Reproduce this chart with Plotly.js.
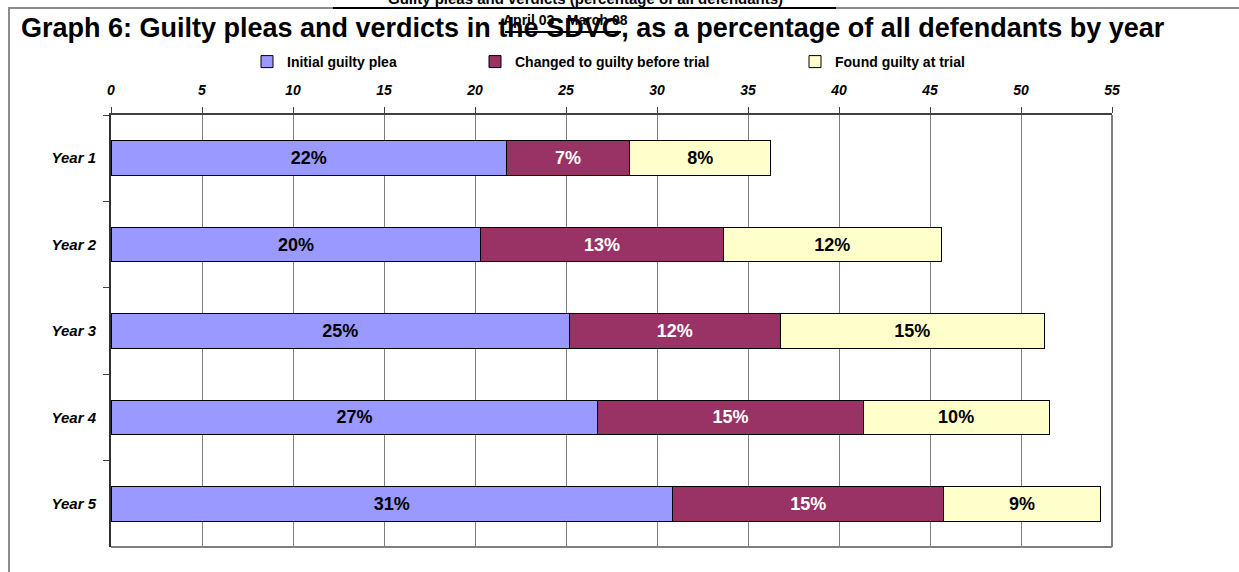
<!DOCTYPE html>
<html>
<head>
<meta charset="utf-8">
<script src="https://cdn.plot.ly/plotly-3.0.1.min.js"></script>
<style>
  html, body { margin: 0; padding: 0; background: #ffffff; }
  #chart { width: 1239px; height: 572px; }
</style>
</head>
<body>
<div id="chart"></div>
<script>
// ---- Data ----
const years = ["Year 1", "Year 2", "Year 3", "Year 4", "Year 5"];
const initialGuiltyPlea = [21.73, 20.32, 25.19, 26.75, 30.85];
const changedBeforeTrial = [6.77, 13.32, 11.57, 14.58, 14.91];
const foundGuiltyAtTrial = [7.76, 11.99, 14.52, 10.21, 8.59];
const seriesNames = ["Initial guilty plea", "Changed to guilty before trial", "Found guilty at trial"];
const xTickValues = [0, 5, 10, 15, 20, 25, 30, 35, 40, 45, 50, 55];

// ---- Layout helpers (pixel -> paper) ----
const W = 1239, H = 572;
const M = { l: 111, r: 127, t: 115, b: 25 };
const PW = W - M.l - M.r, PH = H - M.t - M.b;
const px = v => (v - M.l) / PW;
const py = v => 1 - (v - M.t) / PH;

const FONT = "Liberation Sans, Arial, sans-serif";

function barTrace(vals, name, fill, txtColor, lw) {
  return {
    type: "bar",
    orientation: "h",
    y: years,
    x: vals,
    name: name,
    width: 0.4,
    marker: { color: fill, line: { color: "#000000", width: 1 } },
    texttemplate: "%{x:.0f}%",
    textposition: "inside",
    insidetextanchor: "middle",
    constraintext: "none",
    textfont: { family: FONT, size: 18, color: txtColor, weight: "bold" },
    hoverinfo: "none",
    legendwidth: lw
  };
}

const data = [
  barTrace(initialGuiltyPlea, seriesNames[0], "#9999FF", "#000000", 183),
  barTrace(changedBeforeTrial, seriesNames[1], "#993366", "#FFFFFF", 275),
  barTrace(foundGuiltyAtTrial, seriesNames[2], "#FFFFCC", "#000000", 160)
];

const layout = {
  width: W, height: H,
  margin: M,
  paper_bgcolor: "#ffffff",
  plot_bgcolor: "#ffffff",
  barmode: "stack",
  bargap: 0.6,
  font: { family: FONT, color: "#000000" },
  showlegend: true,
  legend: {
    orientation: "h",
    x: px(247), xanchor: "left",
    y: py(62), yanchor: "middle",
    font: { family: FONT, size: 14, weight: "bold" },
    traceorder: "normal",
    itemclick: false, itemdoubleclick: false,
    bgcolor: "rgba(0,0,0,0)"
  },
  xaxis: {
    side: "top",
    range: [0, 55],
    tickvals: xTickValues,
    ticktext: xTickValues.map(String),
    ticks: "outside", ticklen: 6, tickcolor: "#404040", tickwidth: 1,
    showline: true, linecolor: "#404040", linewidth: 2,
    showgrid: true, gridcolor: "#7f7f7f", gridwidth: 1,
    zeroline: false,
    tickfont: { family: FONT, size: 14, weight: "bold", style: "italic" },
    ticklabelstandoff: 6,
    fixedrange: true
  },
  yaxis: {
    type: "category",
    categoryorder: "array", categoryarray: years,
    autorange: "reversed",
    tickson: "boundaries",
    ticks: "outside", ticklen: 6, tickcolor: "#404040", tickwidth: 1,
    showline: true, linecolor: "#303030", linewidth: 2,
    showgrid: false,
    zeroline: false,
    tickfont: { family: FONT, size: 15, weight: "bold", style: "italic" },
    ticklabelstandoff: 10,
    fixedrange: true
  },
  shapes: [
    // right and bottom border of the plot area
    { type: "line", xref: "paper", yref: "paper", x0: 1, x1: 1, y0: 0, y1: 1,
      line: { color: "#808080", width: 2 }, layer: "below" },
    { type: "line", xref: "paper", yref: "paper", x0: 0, x1: 1, y0: 0, y1: 0,
      line: { color: "#808080", width: 2 }, layer: "below" },
    // outer chart frame (left and top)
    { type: "path", xref: "paper", yref: "paper",
      path: `M ${px(9)} ${py(580)} L ${px(9)} ${py(8)} L ${px(1245)} ${py(8)}`,
      line: { color: "#8c8c8c", width: 2 } },
    // underline of top title
    { type: "line", xref: "paper", yref: "paper", x0: px(333), x1: px(836), y0: py(8), y1: py(8),
      line: { color: "#000000", width: 2 } },
    // underline of date subtitle
    { type: "line", xref: "paper", yref: "paper", x0: px(505), x1: px(621), y0: py(32), y1: py(32),
      line: { color: "#000000", width: 2 } }
  ],
  annotations: [
    { text: "Guilty pleas and verdicts (percentage of all defendants)",
      xref: "paper", yref: "paper", x: px(585), y: py(9), xanchor: "center", yanchor: "bottom",
      showarrow: false, font: { family: FONT, size: 15, weight: "bold", color: "#000000" } },
    { text: "Graph 6: Guilty pleas and verdicts in the SDVC, as a percentage of all defendants by year",
      xref: "paper", yref: "paper", x: px(19), y: py(28), xanchor: "left", yanchor: "middle",
      showarrow: false, font: { family: FONT, size: 27, weight: "bold", color: "#000000" } },
    { text: "April 03 - March 08",
      xref: "paper", yref: "paper", x: px(565), y: py(20), xanchor: "center", yanchor: "middle",
      showarrow: false, font: { family: FONT, size: 14, weight: "bold", color: "#000000" } }
  ]
};

Plotly.newPlot("chart", data, layout, { displayModeBar: false, staticPlot: true });
</script>
</body>
</html>
